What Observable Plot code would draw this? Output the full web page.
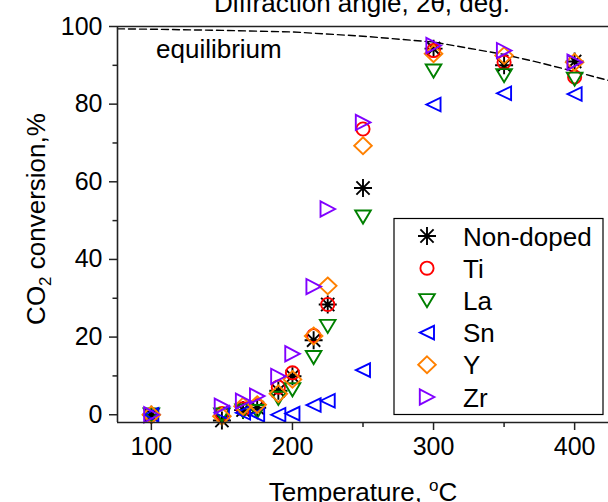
<!DOCTYPE html>
<html><head><meta charset="utf-8">
<script src="https://cdn.jsdelivr.net/npm/d3@7"></script>
<script src="https://cdn.jsdelivr.net/npm/@observablehq/plot@0.6"></script>
<style>body{margin:0;background:#fff;} svg{display:block}</style>
</head><body><div id="chart"></div>
<script>
// ---- data ----
const temps = [100, 150, 165, 175, 190, 200, 215, 225, 250, 300, 350, 400];
const nonDoped = [0, -1.5, 1.2, 1.8, 6.2, 9.9, 19.2, 28.4, 58.4, 94.3, 90.0, 91.0];
const ti       = [0, 0.3, 1.5, 2.3, 7.1, 10.8, 20.4, 28.4, 73.6, 93.8, 90.8, 87.0];
const la       = [0, 0.0, 1.0, 0.9, 4.3, 6.5, 14.8, 22.8, 51.0, 88.6, 87.4, 86.5];
const sn       = [0, 0.5, 0.5, 0.0, 0.0, 0.3, 2.5, 3.6, 11.5, 79.9, 82.8, 82.6];
const yy       = [0, -0.4, 2.2, 2.6, 5.4, 9.1, 20.3, 33.2, 69.3, 93.0, 92.5, 90.8];
const zr       = [0, 2.2, 3.5, 4.8, 9.9, 15.7, 33.0, 53.0, 75.3, 95.1, 93.8, 90.8];
const seriesNames  = ["Non-doped", "Ti", "La", "Sn", "Y", "Zr"];
const seriesValues = [nonDoped, ti, la, sn, yy, zr];
const seriesColors = ["#000000", "#ff0000", "#008000", "#0000ff", "#ff8000", "#8000ff"];
const seriesShapes = ["asterisk", "circle", "down", "left", "diamond", "right"];
const eqT = [76, 100, 150, 200, 250, 300, 350, 375, 400, 424];
const eqV = [99.4, 99.3, 99.0, 98.6, 97.5, 96.0, 92.8, 90.7, 88.4, 86.1];
const xTicks = [100, 200, 300, 400];
const xMinor = [150, 250, 350];
const yTicks = [0, 20, 40, 60, 80, 100];
const yMinor = [10, 30, 50, 70, 90];

// ---- symbols ----
function makeSymbol(kind) {
  return {draw(ctx, size) {
    const k = Math.sqrt(size / Math.PI) / 7;
    switch (kind) {
      case "circle": ctx.moveTo(6.6*k, 0); ctx.arc(0, 0, 6.6*k, 0, 2*Math.PI); break;
      case "down": ctx.moveTo(-7.8*k, -6.3*k); ctx.lineTo(7.8*k, -6.3*k); ctx.lineTo(0, 6.8*k); ctx.closePath(); break;
      case "left": ctx.moveTo(-7.2*k, 0); ctx.lineTo(7.0*k, -6.8*k); ctx.lineTo(7.0*k, 6.8*k); ctx.closePath(); break;
      case "right": ctx.moveTo(7.4*k, 0); ctx.lineTo(-7.2*k, -7.6*k); ctx.lineTo(-7.2*k, 7.6*k); ctx.closePath(); break;
      case "diamond": ctx.moveTo(0, -8.4*k); ctx.lineTo(8.8*k, 0); ctx.lineTo(0, 8.4*k); ctx.lineTo(-8.8*k, 0); ctx.closePath(); break;
      case "asterisk": {
        const a = 9*k, d = 6.6*k;
        ctx.moveTo(0, -a); ctx.lineTo(0, a);
        ctx.moveTo(-a, 0); ctx.lineTo(a, 0);
        ctx.moveTo(-d, -d); ctx.lineTo(d, d);
        ctx.moveTo(-d, d); ctx.lineTo(d, -d);
        break;
      }
    }
  }};
}

const FONT = "'Liberation Sans', Arial, sans-serif";

const dotMarks = seriesNames.map((name, si) =>
  Plot.dot(temps.map((t, i) => ({t, v: seriesValues[si][i]})), {
    x: "t", y: "v", r: 7,
    symbol: makeSymbol(seriesShapes[si]),
    stroke: seriesColors[si], fill: "none", strokeWidth: 1.9
  })
);

const plot = Plot.plot({
  width: 608, height: 502,
  marginLeft: 117, marginRight: 0, marginTop: 26, marginBottom: 80,
  style: {fontFamily: FONT, background: "#fff", color: "#000"},
  x: {domain: [76, 424]},
  y: {domain: [-2, 100]},
  marks: [
    Plot.line(eqT.map((t, i) => ({t, v: eqV[i]})), {x: "t", y: "v", stroke: "#000", strokeWidth: 1.4, strokeDasharray: "7,4"}),
    ...dotMarks,
    Plot.ruleX([76], {stroke: "#222", strokeWidth: 1.6}),
    Plot.ruleY([-2], {stroke: "#222", strokeWidth: 1.6}),
    Plot.ruleY([100], {stroke: "#222", strokeWidth: 1.6}),
    Plot.axisY({ticks: yTicks, tickSize: 8, tickPadding: 7, fontSize: 25, label: null, strokeWidth: 1.5, stroke: "#222"}),
    Plot.axisY({ticks: yMinor, tickSize: 4.5, text: null, label: null, strokeWidth: 1.5, stroke: "#222"}),
    Plot.axisX({ticks: xTicks, tickSize: 8, tickPadding: 7, fontSize: 25, label: null, strokeWidth: 1.5, stroke: "#222"}),
    Plot.axisX({ticks: xMinor, tickSize: 5, text: null, label: null, strokeWidth: 1.5, stroke: "#222"})
  ]
});

const svg = d3.select(plot);
// top title (cropped axis title of upper panel)
svg.append("text").attr("x", 362).attr("y", 12).attr("text-anchor", "middle")
  .attr("font-size", 26).attr("font-family", FONT).attr("fill", "#000")
  .text("Diffraction angle, 2θ, deg.");
// equilibrium label
svg.append("text").attr("x", 156).attr("y", 58).attr("text-anchor", "start").attr("font-size", 26)
  .attr("font-family", FONT).attr("fill", "#000").text("equilibrium");
// x label
const xl = svg.append("text").attr("x", 363).attr("y", 500.5).attr("text-anchor", "middle")
  .attr("font-size", 26).attr("font-family", FONT).attr("fill", "#000");
xl.append("tspan").text("Temperature, ");
xl.append("tspan").attr("font-size", 17).attr("dy", -10).text("o");
xl.append("tspan").attr("dy", 10).text("C");
// y label
const yl = svg.append("text").attr("transform", "translate(45,219) rotate(-90)").attr("text-anchor", "middle")
  .attr("font-size", 26).attr("font-family", FONT).attr("fill", "#000");
yl.append("tspan").text("CO");
yl.append("tspan").attr("font-size", 17).attr("dy", 6).text("2");
yl.append("tspan").attr("dy", -6).text(" conversion,%");

// legend
const lg = svg.append("g");
lg.append("rect").attr("x", 394).attr("y", 218.5).attr("width", 209).attr("height", 196)
  .attr("fill", "#fff").attr("stroke", "#000").attr("stroke-width", 1.2);
seriesNames.forEach((name, i) => {
  const cy = 236 + i * 32.2;
  const p = d3.path();
  makeSymbol(seriesShapes[i]).draw(p, 49 * Math.PI);
  lg.append("path").attr("d", p.toString()).attr("transform", `translate(427,${cy})`)
    .attr("fill", "none").attr("stroke", seriesColors[i]).attr("stroke-width", 1.9);
  lg.append("text").attr("x", 463).attr("y", cy + 9.5).attr("text-anchor", "start").attr("font-size", 26)
    .attr("font-family", FONT).attr("fill", "#000").text(name);
});

document.getElementById("chart").appendChild(plot);
</script>
</body></html>
